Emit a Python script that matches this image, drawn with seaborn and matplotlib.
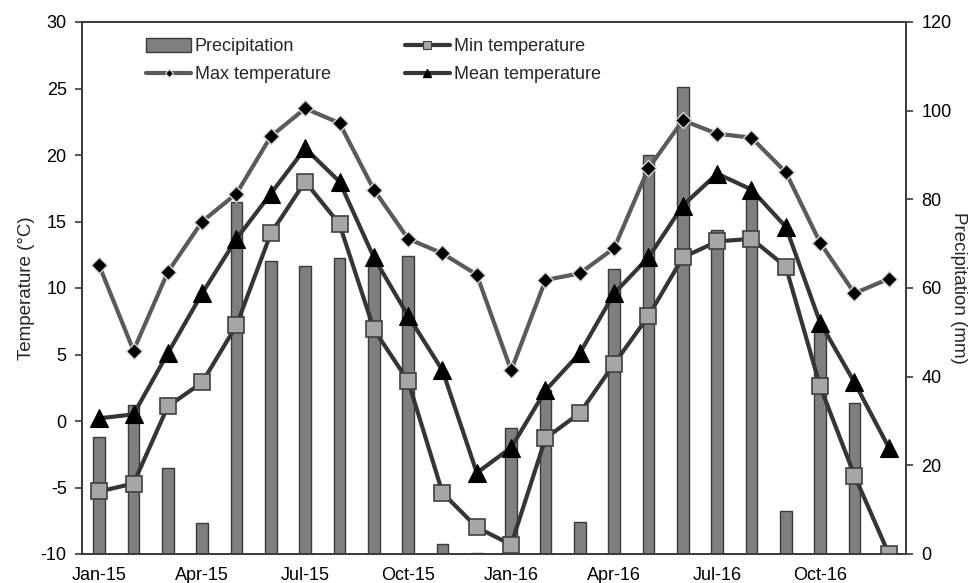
import numpy as np
import pandas as pd
import matplotlib
matplotlib.use("Agg")
import matplotlib.pyplot as plt
from matplotlib.lines import Line2D
from matplotlib.patches import Patch
import seaborn as sns

months = ["Jan-15", "Feb-15", "Mar-15", "Apr-15", "May-15", "Jun-15",
          "Jul-15", "Aug-15", "Sep-15", "Oct-15", "Nov-15", "Dec-15",
          "Jan-16", "Feb-16", "Mar-16", "Apr-16", "May-16", "Jun-16",
          "Jul-16", "Aug-16", "Sep-16", "Oct-16", "Nov-16", "Dec-16"]
precipitation = [26.4, 33.6, 19.4, 7.0, 79.4, 66.1, 65.0, 66.8, 66.0, 67.2, 2.3, 0.3,
                 28.4, 37.0, 7.2, 64.3, 90.0, 105.4, 73.1, 81.0, 9.7, 51.2, 34.1, 0.0]
max_temp = [11.7, 5.3, 11.2, 15.0, 17.1, 21.4, 23.5, 22.4, 17.4, 13.7, 12.6, 11.0,
            3.8, 10.6, 11.1, 13.0, 19.0, 22.6, 21.6, 21.3, 18.7, 13.4, 9.6, 10.7]
mean_temp = [0.2, 0.5, 5.1, 9.6, 13.7, 17.1, 20.5, 18.0, 12.3, 7.9, 3.8, -3.9,
             -2.0, 2.3, 5.1, 9.6, 12.3, 16.2, 18.6, 17.4, 14.6, 7.4, 2.9, -2.0]
min_temp = [-5.3, -4.7, 1.1, 2.9, 7.2, 14.1, 18.0, 14.8, 6.9, 3.0, -5.4, -8.0,
            -9.3, -1.3, 0.6, 4.3, 7.9, 12.3, 13.5, 13.7, 11.6, 2.6, -4.1, -10.0]
tick_labels = ["Jan-15", "Apr-15", "Jul-15", "Oct-15", "Jan-16", "Apr-16", "Jul-16", "Oct-16"]

df = pd.DataFrame({"month": months, "precip": precipitation, "tmax": max_temp,
                   "tmean": mean_temp, "tmin": min_temp})
df["idx"] = np.arange(len(df))

sns.set_theme(style="white")
plt.rcParams["font.family"] = ["Liberation Sans", "DejaVu Sans"]
plt.rcParams["axes.unicode_minus"] = False

fig = plt.figure(figsize=(9.74, 5.83), dpi=100)
ax = fig.add_axes([82 / 974, 1 - 554 / 583, (906 - 82) / 974, (554 - 22) / 583])
ax2 = ax.twinx()

bar_face = "#7f7f7f"
edge = "#3a3a3a"
sns.barplot(data=df, x="idx", y="precip", ax=ax2, color=bar_face, saturation=1,
            width=0.34, edgecolor=edge, linewidth=1.0)

dark = "#353535"
maxc = "#5a5a5a"
sns.lineplot(data=df, x="idx", y="tmax", ax=ax, color=maxc, lw=3.0, marker="D",
             markersize=8.5, markerfacecolor="black", markeredgecolor="#d8d8d8",
             markeredgewidth=1.0)
sns.lineplot(data=df, x="idx", y="tmean", ax=ax, color=dark, lw=3.0, marker="^",
             markersize=12.5, markerfacecolor="black", markeredgecolor="black",
             markeredgewidth=0.8)
sns.lineplot(data=df, x="idx", y="tmin", ax=ax, color=dark, lw=3.0, marker="s",
             markersize=11, markerfacecolor="#a6a6a6", markeredgecolor="#404040",
             markeredgewidth=1.2)

ax.set_zorder(ax2.get_zorder() + 1)
ax.patch.set_visible(False)

ax.set_xlim(-0.5, len(months) - 0.5)
ax.set_ylim(-10, 30)
ax2.set_ylim(0, 120)
ax.set_yticks(np.arange(-10, 31, 5))
ax2.set_yticks(np.arange(0, 121, 20))

ax.set_xticks(np.arange(-0.5, len(months), 1))
ax.set_xticklabels([])
label_pos = [months.index(t) for t in tick_labels]
ax.set_xticks(label_pos, tick_labels, minor=True)
ax.tick_params(axis="x", which="major", direction="out", length=5, width=1.2, color=edge)
ax.tick_params(axis="x", which="minor", length=0, labelsize=13, pad=9, labelcolor="black")
ax.tick_params(axis="y", direction="out", length=5, width=1.2, color=edge,
               labelsize=13, left=True, labelcolor="black", pad=6)
ax2.tick_params(axis="y", direction="out", length=5, width=1.2, color=edge,
                labelsize=13, right=True, labelcolor="black", pad=6)

ax.set_xlabel("")
ax2.set_xlabel("")
ax.set_ylabel("Temperature (°C)", fontsize=13.5, labelpad=4)
ax2.set_ylabel("Precipitation (mm)", fontsize=13.5, rotation=270, labelpad=11)

for a in (ax, ax2):
    for s in a.spines.values():
        s.set_visible(True)
        s.set_color(edge)
        s.set_linewidth(1.2)

handles = [
    Patch(facecolor=bar_face, edgecolor=edge, linewidth=1.0),
    Line2D([], [], color=maxc, lw=3.0, marker="D", markersize=4,
           markerfacecolor="black", markeredgecolor="#d8d8d8", markeredgewidth=0.8),
    Line2D([], [], color=dark, lw=3.0, marker="s", markersize=6,
           markerfacecolor="#a6a6a6", markeredgecolor="#404040", markeredgewidth=0.8),
    Line2D([], [], color=dark, lw=3.0, marker="^", markersize=6,
           markerfacecolor="black", markeredgecolor="black"),
]
labels = ["Precipitation", "Max temperature", "Min temperature", "Mean temperature"]
fig.legend(handles, labels, ncol=2, frameon=False, fontsize=13,
           loc="upper left", bbox_to_anchor=(146 / 974, 1 - 38 / 583),
           handlelength=2.5, handletextpad=0.2, columnspacing=4.1,
           labelspacing=0.6, borderaxespad=0, borderpad=0, handleheight=0.8)

fig.savefig("out.png", dpi=100)
